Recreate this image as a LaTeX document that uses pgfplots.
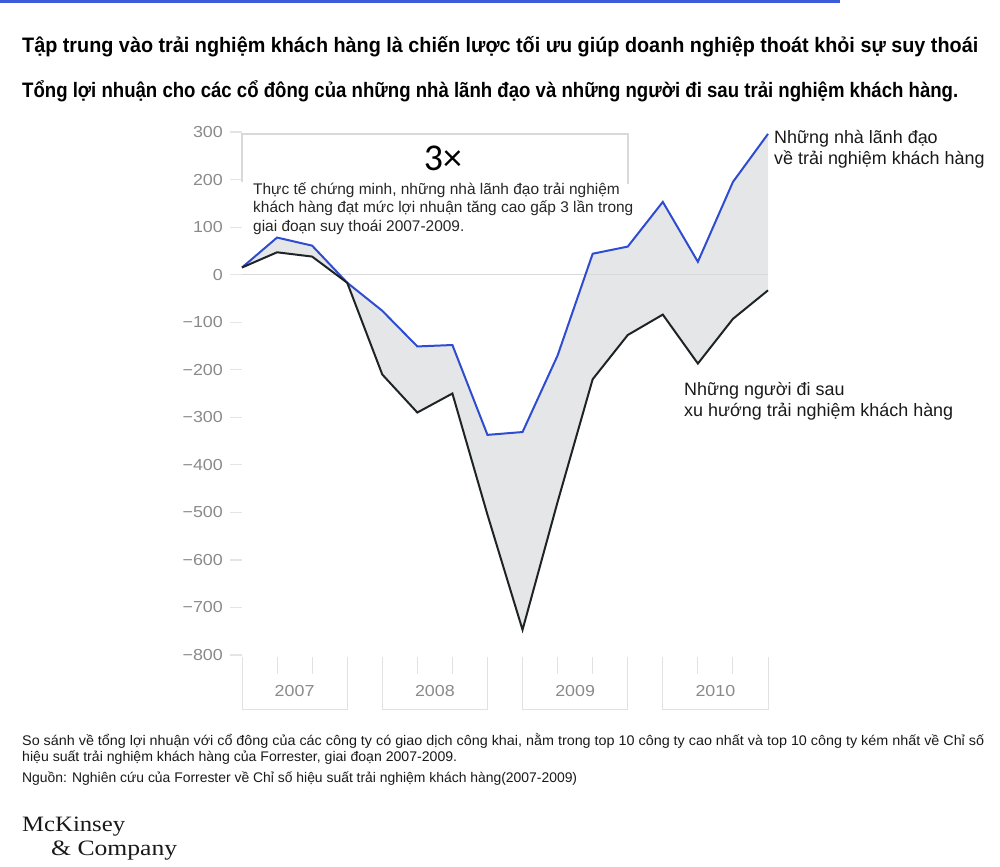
\documentclass[border=0pt]{standalone}
\usepackage{pgfplots}
\pgfplotsset{compat=1.18}
\usepackage{pgfplotstable}
\usepgfplotslibrary{fillbetween}
\usepackage{graphicx}
\usepackage{fontspec}
\setmainfont{Liberation Sans}
\newfontfamily\seriffont{Liberation Serif}
\newfontfamily\carlito{Carlito}
\definecolor{lead}{HTML}{2E4CCF}
\definecolor{lag}{HTML}{1E2426}
\definecolor{band}{HTML}{E5E6E8}
\definecolor{ticklab}{HTML}{8A8A8A}
\definecolor{gridc}{HTML}{D9D9D9}
\definecolor{topbar}{HTML}{3B5BDB}
\newcommand\yl[1]{\scalebox{1.12}[1]{#1}}

\pgfplotstableread{
q leaders laggards
0 15 15
1 78 47
2 61 38
3 -17 -17
4 -76 -210
5 -151 -290
6 -148 -250
7 -337 -505
8 -331 -747
9 -170 -478
10 44 -220
11 59 -127
12 153 -84
13 27 -187
14 195 -93
15 296 -33
}\tsr

\begin{document}
\begin{tikzpicture}[x=1bp,y=1bp]
\path (0,0) rectangle (1000,-867);
\fill[topbar] (0,0) rectangle (840,-2.5);
\node[anchor=base west, inner sep=0] at (22,-52) {\resizebox{956bp}{\height}{\fontsize{21}{24}\selectfont\bfseries Tập trung vào trải nghiệm khách hàng là chiến lược tối ưu giúp doanh nghiệp thoát khỏi sự suy thoái}};
\node[anchor=base west, inner sep=0] at (22,-97) {\resizebox{936bp}{\height}{\fontsize{21}{24}\selectfont\bfseries Tổng lợi nhuận cho các cổ đông của những nhà lãnh đạo và những người đi sau trải nghiệm khách hàng.}};

\begin{axis}[
  at={(242bp,-655bp)}, anchor=south west,
  scale only axis, width=526bp, height=523bp,
  xmin=0, xmax=15, ymin=-800, ymax=300,
  clip=false,
  axis x line=none,
  axis y line*=left,
  y axis line style={draw=none},
  tick align=outside,
  major tick length=12bp,
  ytick={-800,-700,-600,-500,-400,-300,-200,-100,0,100,200,300},
  yticklabels={\yl{−800},\yl{−700},\yl{−600},\yl{−500},\yl{−400},\yl{−300},\yl{−200},\yl{−100},\yl{0},\yl{100},\yl{200},\yl{300}},
  ytick style={draw=gridc!70, line width=1.2pt},
  yticklabel style={font=\fontsize{16}{18}\selectfont, text=ticklab, anchor=east, inner sep=0pt, xshift=-7bp},
]
\addplot[draw=none, name path=A, forget plot] table[x=q, y=leaders] {\tsr};
\addplot[draw=none, name path=B, forget plot] table[x=q, y=laggards] {\tsr};
\addplot[fill=band, draw=none, forget plot] fill between[of=A and B];
\draw[gridc, line width=1.3pt] (axis cs:0,0) -- (axis cs:15,0);
\addplot[draw=lead, line width=2pt, line join=miter] table[x=q, y=leaders] {\tsr};
\addplot[draw=lag, line width=2pt, line join=miter] table[x=q, y=laggards] {\tsr};
\pgfplotsinvokeforeach{0,1,2,3}{
  \draw[gridc!80, line width=1pt] (axis cs:{4*#1},-804) -- (axis cs:{4*#1},-914) -- (axis cs:{4*#1+3},-914) -- (axis cs:{4*#1+3},-804);
  \draw[gridc!80, line width=1pt] (axis cs:{4*#1+1},-804) -- (axis cs:{4*#1+1},-840);
  \draw[gridc!80, line width=1pt] (axis cs:{4*#1+2},-804) -- (axis cs:{4*#1+2},-840);
}
\node[font=\fontsize{16}{18}\selectfont, text=ticklab] at (axis cs:1.5,-876) {\yl{2007}};
\node[font=\fontsize{16}{18}\selectfont, text=ticklab] at (axis cs:5.5,-876) {\yl{2008}};
\node[font=\fontsize{16}{18}\selectfont, text=ticklab] at (axis cs:9.5,-876) {\yl{2009}};
\node[font=\fontsize{16}{18}\selectfont, text=ticklab] at (axis cs:13.5,-876) {\yl{2010}};
\end{axis}

% annotation box
\draw[gridc, line width=1.3pt] (242,-182) -- (242,-134) -- (628,-134) -- (628,-184);
\node[font=\carlito\fontsize{38}{38}\selectfont, text=black] at (443,-158) {3×};
\begin{scope}[every node/.style={anchor=base west, inner sep=0, font=\fontsize{15.5}{18}\selectfont, text=black!85}]
\node at (253,-194) {Thực tế chứng minh, những nhà lãnh đạo trải nghiệm};
\node at (253,-212.5) {khách hàng đạt mức lợi nhuận tăng cao gấp 3 lần trong};
\node at (253,-231) {giai đoạn suy thoái 2007-2009.};
\end{scope}
\begin{scope}[every node/.style={anchor=base west, inner sep=0, font=\fontsize{18}{21}\selectfont, text=black!90}]
\node at (774,-143) {Những nhà lãnh đạo};
\node at (774,-164) {về trải nghiệm khách hàng};
\node at (684,-395) {Những người đi sau};
\node at (684,-416.5) {xu hướng trải nghiệm khách hàng};
\end{scope}

% footnotes
\begin{scope}[every node/.style={anchor=base west, inner sep=0, text=black!90}]
\node at (22,-745) {\resizebox{962bp}{\height}{\fontsize{14}{16}\selectfont So sánh về tổng lợi nhuận với cổ đông của các công ty có giao dịch công khai, nằm trong top 10 công ty cao nhất và top 10 công ty kém nhất về Chỉ số}};
\node at (22,-761) {\resizebox{435bp}{\height}{\fontsize{14}{16}\selectfont hiệu suất trải nghiệm khách hàng của Forrester, giai đoạn 2007-2009.}};
\node at (22,-782) {\resizebox{555bp}{\height}{\fontsize{14}{16}\selectfont Nguồn: Nghiên cứu của Forrester về Chỉ số hiệu suất trải nghiệm khách hàng(2007-2009)}};
\node at (22,-831) {\resizebox{103bp}{\height}{\seriffont\fontsize{22}{24}\selectfont McKinsey}};
\node at (51,-855) {\resizebox{126bp}{\height}{\seriffont\fontsize{22}{24}\selectfont \&~Company}};
\end{scope}
\end{tikzpicture}
\end{document}
